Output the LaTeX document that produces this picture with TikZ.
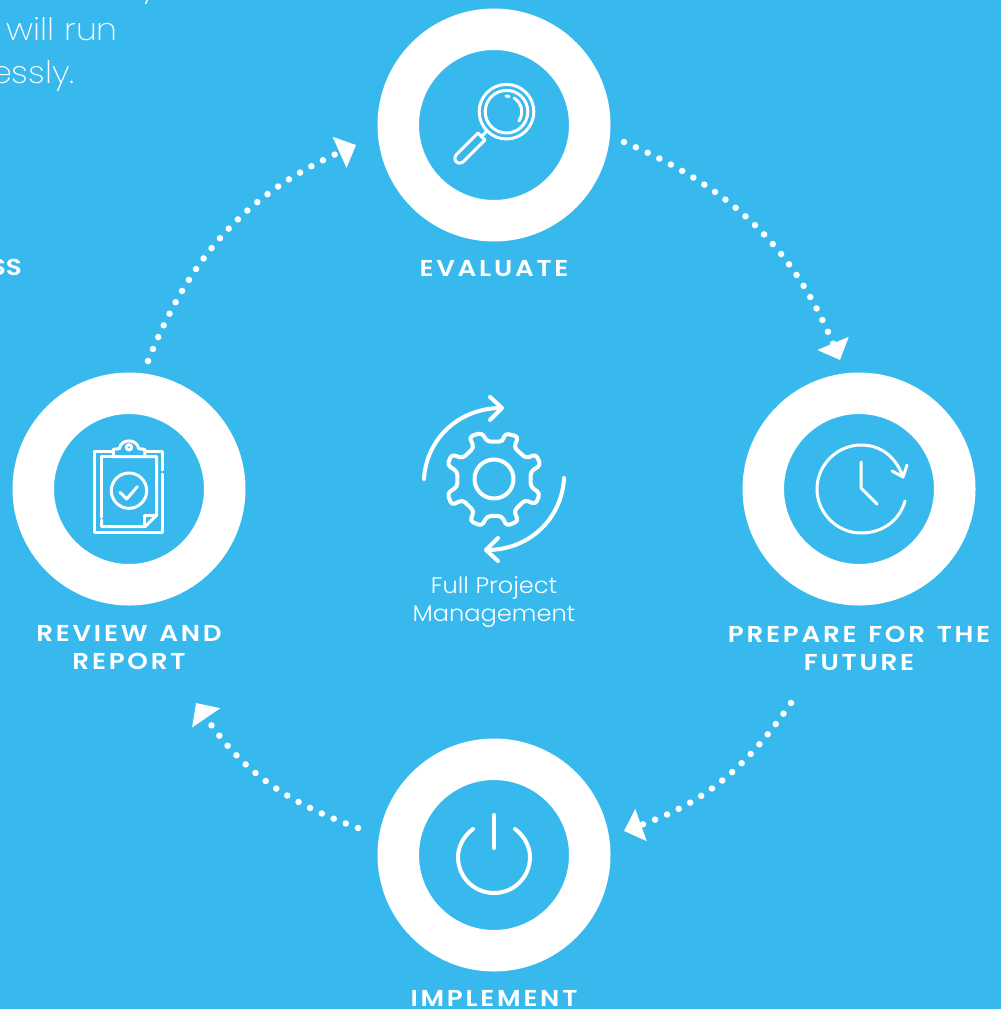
\documentclass[tikz,border=0pt]{standalone}
\usepackage{fontspec}
\setmainfont{Poppins}
\newfontfamily\lightfont{Poppins Light}[FakeStretch=1.07]
\newfontfamily\thinfont{Poppins ExtraLight}[FakeStretch=1.08]
\newfontfamily\capfont{Poppins SemiBold}[FakeStretch=1.14,LetterSpace=12,WordSpace=1.3]
\newfontfamily\capsfont{Poppins SemiBold}[FakeStretch=1.14]
\usetikzlibrary{arrows.meta}
\definecolor{skyb}{HTML}{38B9EE}
\tikzset{
 x=1pt,y=-1pt,
 ring/.style={circle,draw=white,line width=41.5pt,minimum size=191.5pt,inner sep=0pt},
 dots/.style={white,line width=6.5pt,line cap=round,dash pattern=on 0pt off 13pt,-{Triangle[length=18pt,width=33pt]}},
 ico/.style={white,line width=3pt,line cap=round,line join=round},
 captxt/.style={text=white,font=\capfont\fontsize{23}{28}\selectfont,align=center,inner sep=0pt},
 soft/.style={text=white,inner sep=0pt,anchor=base east},
 topline/.style={soft,font=\thinfont\fontsize{31}{40}\selectfont},
}
\begin{document}
\begin{tikzpicture}
\useasboundingbox (0,0) rectangle (1001,1009);
\fill[skyb] (0,0) rectangle (1001,1009);
\node[ring] (ev) at (494,125) {};
\node[ring] (pr) at (859,489) {};
\node[ring] (re) at (129,489) {};
\node[ring] (im) at (494,855) {};
\node[captxt] (evt) at (494,268.5) {EVALUATE};
\node[captxt] (ret) at (129,648) {REVIEW AND\\REPORT};
\node[captxt] (prt) at (859,648) {PREPARE FOR THE\\FUTURE};
\node[captxt] (imt) at (494,998.5) {IMPLEMENT};
\node[text=white,font=\lightfont\fontsize{22.5}{28}\selectfont,align=center,inner sep=0pt] (fp) at (494,602) {Full Project\\Management};
\node[topline] (t0) at (158,-4) {y};
\node[topline] (t1) at (118,40) {will run};
\node[topline] (t2) at (75,83) {essly.};
\node[soft,font=\capsfont\fontsize{23}{28}\selectfont] (t3) at (22,275) {SS};
\coordinate (a1) at (624,142); \coordinate (a2) at (840,360);
\coordinate (b1) at (791,703); \coordinate (b2) at (624,831);
\coordinate (c1) at (358,828); \coordinate (c2) at (196,703);
\coordinate (d1) at (148,361); \coordinate (d2) at (356,145);
\draw[dots] (a1) to[bend left=22] (a2);
\draw[dots] (b1) to[bend left=18] (b2);
\draw[dots] (c1) to[bend left=18] (c2);
\draw[dots] (d1) to[bend left=22] (d2);
% magnifier
\begin{scope}[ico]
\draw (506.5,111.7) circle (27.3);
\draw (506.5,111.7) circle (21.3);
\draw (514,98) .. controls (522,103) and (524,113) .. (519,121);
\draw (506,96) -- (509,96.5);
\draw (486,132) -- (481,137);
\draw (478,133) -- (456,155) .. controls (452,160) and (458,166) .. (463,162) -- (485,140) -- cycle;
\end{scope}
% clipboard (coordinates in thirds of a pixel)
\begin{scope}[ico,shift={(80,430)},x=0.3333pt,y=-0.3333pt]
\draw (247,120) -- (247,65) -- (195,65);
\draw (100,65) -- (45,65) -- (45,308) -- (247,308) -- (247,132);
\draw (65,262) -- (65,80) -- (100,80);
\draw (65,270) -- (65,290) -- (195,290) -- (230,255) -- (230,80) -- (195,80);
\draw (100,80) -- (100,58) -- (118,56) .. controls (122,25) and (172,25) .. (176,56) -- (195,58) -- (195,80) -- cycle;
\draw (147,52) circle (8);
\draw (147,182) circle (53);
\draw (120,187) -- (140,207) -- (172,170);
\draw (195,288) -- (195,258) -- (230,258);
\end{scope}
% clock
\begin{scope}[ico]
\draw (905,501) .. controls (899,522) and (881,533) .. (861,533) .. controls (837,533) and (817,513) .. (817,489) .. controls (817,465) and (837,445) .. (861,445) .. controls (881,445) and (896,457) .. (903,477);
\draw (892,471) -- (903,477) -- (907,465);
\draw (861,462) -- (861,488) -- (877,504);
\end{scope}
% power
\begin{scope}[ico,line width=4pt]
\draw (494,815) -- (494,848);
\draw (473,829) .. controls (461,838) and (458,850) .. (458,857) .. controls (458,877) and (474,893) .. (494,893) .. controls (514,893) and (530,877) .. (530,857) .. controls (530,850) and (527,838) .. (515,829);
\end{scope}
% gear and arrows
\begin{scope}[ico,line width=4pt]
\draw (494,479) circle (19.5);
\draw (424,479) .. controls (426,440) and (458,408) .. (501,408);
\draw (490,397) -- (502,408) -- (490,420);
\draw (564,478) .. controls (562,518) and (530,550) .. (487,550);
\draw (498,538) -- (486,550) -- (498,561);
\end{scope}
\begin{scope}[ico,line width=4pt,shift={(410,390)},x=0.3333pt,y=-0.3333pt]
\draw[rounded corners=3.5pt] (232,155) -- (215,128) -- (178,140) -- (192,172) -- (158,205) -- (125,193) -- (112,225) -- (142,245) -- (142,290) -- (112,310) -- (125,345) -- (158,330) -- (192,363) -- (180,393) -- (215,408) -- (232,378) -- (275,378) -- (290,408) -- (325,393) -- (312,363) -- (345,330) -- (377,343) -- (390,310) -- (362,290) -- (362,245) -- (392,225) -- (378,193) -- (348,205) -- (312,172) -- (325,140) -- (285,130) -- (278,155) -- cycle;
\end{scope}
\end{tikzpicture}
\end{document}
